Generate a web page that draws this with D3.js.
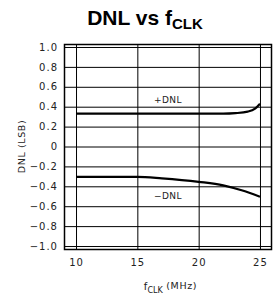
<!DOCTYPE html>
<html>
<head>
<meta charset="utf-8">
<script src="https://cdn.jsdelivr.net/npm/d3@7"></script>
<style>
  body { margin: 0; background: #fff; }
</style>
</head>
<body>
<div id="chart"></div>
<script>
// values
const xTicks = [10, 15, 20, 25];
const yTicks = [-1.0, -0.8, -0.6, -0.4, -0.2, 0, 0.2, 0.4, 0.6, 0.8, 1.0];
const posFreq = [10, 22, 23, 24, 24.6, 25];
const posDnl = [0.33, 0.33, 0.335, 0.35, 0.38, 0.43];
const negFreq = [10, 15, 17, 20, 22, 23.5, 25];
const negDnl = [-0.305, -0.305, -0.32, -0.355, -0.39, -0.44, -0.505];

const width = 275, height = 298;
const margin = { top: 44, right: 3, bottom: 48, left: 64 };
const w = width - margin.left - margin.right,
  h = height - margin.top - margin.bottom;

const svg = d3.select("#chart").append("svg")
  .attr("width", width).attr("height", height);

// title
const title = svg.append("text")
  .attr("x", 145).attr("y", 25)
  .attr("text-anchor", "middle")
  .attr("font-family", "Liberation Sans, Arial, sans-serif")
  .attr("font-weight", "bold")
  .attr("font-size", 21);
title.append("tspan").text("DNL vs f");
title.append("tspan").attr("dy", 4).attr("font-size", 15).text("CLK");

const g = svg.append("g").attr("transform", "translate(" + margin.left + "," + margin.top + ")");

const x = d3.scaleLinear().domain([9.02, 25.98]).range([0, w]);
const y = d3.scaleLinear().domain([-1.04, 1.03]).range([h, 0]);

// axes with full-width ticks as the grid
const fmt = d => d === 0 ? "0" : d3.format(".1f")(d);
const yAxis = g.append("g")
  .call(d3.axisLeft(y).tickValues(yTicks).tickSize(-w).tickPadding(6).tickFormat(fmt));
const xAxis = g.append("g")
  .attr("transform", "translate(0," + h + ")")
  .call(d3.axisBottom(x).tickValues(xTicks).tickSize(-h).tickPadding(9));

[yAxis, xAxis].forEach(a => {
  a.select(".domain").remove();
  a.selectAll(".tick line").attr("stroke", "#000").attr("stroke-width", 1);
  a.selectAll(".tick text")
    .attr("font-family", "DejaVu Sans, sans-serif")
    .attr("font-size", 10)
    .attr("letter-spacing", 1)
    .attr("fill", "#222");
});

// frame
g.append("rect").attr("x", 0.5).attr("y", 0.5).attr("width", w - 1).attr("height", h - 1)
  .attr("fill", "none").attr("stroke", "#000").attr("stroke-width", 1.5);

// axis titles
svg.append("text")
  .attr("transform", "translate(25," + (margin.top + y(0)) + ") rotate(-90)")
  .attr("text-anchor", "middle")
  .attr("font-family", "DejaVu Sans, sans-serif")
  .attr("font-size", 9.5).attr("letter-spacing", 0.6).attr("fill", "#222")
  .text("DNL (LSB)");
const xt = svg.append("text")
  .attr("x", margin.left + x(17.7)).attr("y", 290)
  .attr("text-anchor", "middle")
  .attr("font-family", "DejaVu Sans, sans-serif")
  .attr("font-size", 10).attr("fill", "#222");
xt.append("tspan").text("f");
xt.append("tspan").attr("dy", 3).attr("font-size", 8).text("CLK");
xt.append("tspan").attr("dy", -4).attr("font-size", 9.5).attr("letter-spacing", 0.6).text(" (MHz)");

// curves
const line = d3.line().x(d => x(d[0])).y(d => y(d[1])).curve(d3.curveMonotoneX);
g.append("path").datum(d3.zip(posFreq, posDnl))
  .attr("d", line).attr("fill", "none").attr("stroke", "#000").attr("stroke-width", 2.2);
g.append("path").datum(d3.zip(negFreq, negDnl))
  .attr("d", line).attr("fill", "none").attr("stroke", "#000").attr("stroke-width", 2.2);

// curve labels
g.append("text").attr("x", x(17.5)).attr("y", y(0.44))
  .attr("text-anchor", "middle")
  .attr("font-family", "DejaVu Sans, sans-serif")
  .attr("font-size", 9).attr("letter-spacing", 0.5)
  .attr("fill", "#222").text("+DNL");
g.append("text").attr("x", x(17.5)).attr("y", y(-0.525))
  .attr("text-anchor", "middle")
  .attr("font-family", "DejaVu Sans, sans-serif")
  .attr("font-size", 9).attr("letter-spacing", 0.5)
  .attr("fill", "#222").text("\u2212DNL");
</script>
</body>
</html>
